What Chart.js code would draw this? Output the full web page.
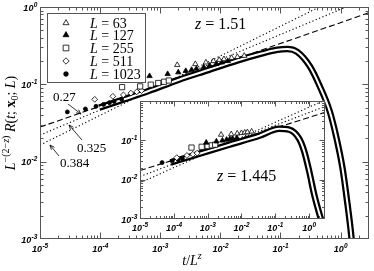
<!DOCTYPE html>
<html>
<head>
<meta charset="utf-8">
<script src="https://cdn.jsdelivr.net/npm/chart.js@4/dist/chart.umd.min.js"></script>
<style>
html, body { margin: 0; padding: 0; background: #fff; }
#wrap { position: relative; width: 374px; height: 271px; }
#main { position: absolute; left: 0; top: 0; }
#inset { position: absolute; left: 112px; top: 96px; }
</style>
</head>
<body>
<div id="wrap">
  <canvas id="main" width="374" height="271"></canvas>
  <canvas id="inset" width="218" height="142"></canvas>
</div>
<script>
// system sizes shown in the legend
const sizes = [63, 127, 255, 511, 1023];

// tick labels
const xTicks = [1e-5, 1e-4, 1e-3, 1e-2, 1e-1, 1];
const xLabels = ['10^-5', '10^-4', '10^-3', '10^-2', '10^-1', '10^0'];
const yTicks = [1e-3, 1e-2, 1e-1, 1];
const mainYLabels = ['10^-3', '10^-2', '10^-1', '10^0'];
const insetYLabels = ['10^-3', '10^-2', '10^-1', ''];

// main panel, z = 1.51 : scaling function (thick curve)
const mainCurveX = [9.7e-5, 2.5e-4, 6.4e-4, 2.0e-3, 6.3e-3, 0.019, 0.05, 0.089, 0.13, 0.19, 0.31, 0.45, 0.66, 0.86, 1.08, 1.30, 1.51, 1.65];
const mainCurveY = [0.05, 0.064, 0.082, 0.114, 0.153, 0.203, 0.252, 0.28, 0.286, 0.263, 0.17, 0.095, 0.045, 0.02, 0.0082, 0.0029, 0.0011, 0.0005];

// power law guides (end points)
const guideX = [1e-5, 3];
const main027 = [0.028, 0.845];
const main0325 = [0.0221, 1.33];
const main0384 = [0.0164, 2.08];

// main panel data points
const m63X = [1.92e-3, 3.84e-3, 5.76e-3, 7.68e-3, 9.6e-3, 1.15e-2, 1.54e-2, 1.92e-2, 2.5e-2];
const m63Y = [0.178, 0.183, 0.192, 0.2, 0.207, 0.212, 0.22, 0.226, 0.234];
const m127X = [6.65e-4, 1.33e-3, 2.0e-3, 2.66e-3, 3.33e-3, 4.0e-3, 5.3e-3, 6.65e-3, 8.6e-3, 1.06e-2, 1.33e-2];
const m127Y = [0.128, 0.136, 0.143, 0.149, 0.154, 0.159, 0.167, 0.175, 0.184, 0.192, 0.2];
const m255X = [2.32e-4, 4.64e-4, 6.96e-4, 9.28e-4, 1.16e-3, 1.39e-3];
const m255Y = [0.092, 0.094, 0.099, 0.104, 0.108, 0.112];
const m511X = [8.13e-5, 1.63e-4, 2.44e-4, 3.25e-4, 4.07e-4, 4.88e-4];
const m511Y = [0.064, 0.07, 0.073, 0.077, 0.080, 0.083];
const m1023X = [2.85e-5, 5.7e-5, 8.55e-5, 1.14e-4, 1.43e-4, 1.71e-4, 2.28e-4];
const m1023Y = [0.044, 0.048, 0.052, 0.055, 0.058, 0.06, 0.064];

// inset, z = 1.445
const insetCurveX = [8e-5, 1.5e-4, 5.8e-4, 4.4e-3, 0.034, 0.131, 0.258, 0.51, 0.71, 1.0, 1.40, 1.97, 2.41];
const insetCurveY = [0.027, 0.032, 0.0455, 0.077, 0.13, 0.195, 0.185, 0.109, 0.054, 0.0169, 0.0044, 0.00146, 0.00081];
const inset027 = [0.017, 0.51];
const inset0325 = [0.012, 0.72];
const inset0384 = [0.0083, 1.05];

const i63X = [2.5e-3, 5.0e-3, 7.5e-3, 1.0e-2, 1.25e-2, 1.5e-2, 2.0e-2];
const i63Y = [0.138, 0.142, 0.148, 0.152, 0.156, 0.16, 0.166];
const i127X = [9.1e-4, 1.82e-3, 2.73e-3, 3.64e-3, 4.55e-3, 5.46e-3, 7.3e-3];
const i127Y = [0.087, 0.093, 0.098, 0.103, 0.107, 0.11, 0.115];
const i255X = [3.33e-4, 6.66e-4, 1.0e-3, 1.33e-3, 1.67e-3];
const i255Y = [0.065, 0.068, 0.071, 0.074, 0.077];
const i511X = [1.22e-4, 2.44e-4, 3.67e-4, 4.89e-4];
const i511Y = [0.036, 0.041, 0.044, 0.047];
const i1023X = [4.5e-5, 9.0e-5, 1.35e-4, 1.8e-4];
const i1023Y = [0.027, 0.03, 0.032, 0.034];

const SANS = '"Liberation Sans", Arial, sans-serif';
const SERIF = '"Liberation Serif", "Times New Roman", serif';

const markerStyles = [
    { pointStyle: 'triangle', fill: '#fff', radius: 3.1 },
    { pointStyle: 'triangle', fill: '#000', radius: 3.1 },
    { pointStyle: 'rect', fill: '#fff', radius: 3.7 },
    { pointStyle: 'rectRot', fill: '#fff', radius: 2.9 },
    { pointStyle: 'circle', fill: '#000', radius: 2 }
];

function pts(xs, ys) {
    return xs.map((x, i) => ({ x: x, y: ys[i] }));
}

function decadeTicks(min, max) {
    const out = [];
    for (let e = Math.floor(Math.log10(min)); e <= Math.ceil(Math.log10(max)); e++) {
        for (let m = 1; m < 10; m++) {
            const v = m * Math.pow(10, e);
            if (v >= min * 0.999 && v <= max * 1.001) out.push({ value: v, major: m === 1 });
        }
    }
    return out;
}

function curveSet(data, color, width, order) {
    return { data: data, showLine: true, pointRadius: 0, borderColor: color, borderWidth: width,
        cubicInterpolationMode: 'monotone', fill: false, order: order, clip: 0 };
}

function guideSet(data, dash) {
    return { data: data, showLine: true, pointRadius: 0, borderColor: '#000', borderWidth: 1.1,
        borderDash: dash, fill: false, order: 3, clip: 0 };
}

function markerSet(data, k) {
    const s = markerStyles[k];
    return { data: data, showLine: false, pointStyle: s.pointStyle, pointRadius: s.radius,
        pointBackgroundColor: s.fill, pointBorderColor: '#000', pointBorderWidth: 0.8, order: 0 };
}

// draws '10^-5' style labels with a raised exponent
function drawPow(ctx, label, x, y, align, size) {
    const parts = label.split('^');
    const bf = 'italic bold ' + size + 'px ' + SANS;
    const ef = 'italic bold ' + (size * 0.72).toFixed(1) + 'px ' + SANS;
    ctx.font = bf;
    const wb = ctx.measureText(parts[0]).width;
    ctx.font = ef;
    const we = ctx.measureText(parts[1]).width;
    let x0 = x;
    if (align === 'center') x0 = x - (wb + we) / 2;
    if (align === 'right') x0 = x - wb - we;
    ctx.textAlign = 'left';
    ctx.font = bf;
    ctx.fillText(parts[0], x0, y);
    ctx.font = ef;
    ctx.fillText(parts[1], x0 + wb + 0.3, y - size * 0.45);
}

// rich text: list of [text, font, dy]
function drawRich(ctx, parts, x, y, align) {
    let w = 0;
    parts.forEach(p => { ctx.font = p[1]; w += ctx.measureText(p[0]).width; });
    let cx = align === 'center' ? x - w / 2 : x;
    ctx.textAlign = 'left';
    parts.forEach(p => {
        ctx.font = p[1];
        ctx.fillText(p[0], cx, y + (p[2] || 0));
        cx += ctx.measureText(p[0]).width;
    });
}

function drawMarker(ctx, k, x, y) {
    const s = markerStyles[k];
    const r = s.radius + 0.3;
    ctx.beginPath();
    if (s.pointStyle === 'triangle') {
        for (let i = 0; i < 3; i++) {
            const a = i * 2 * Math.PI / 3;
            const px = x + Math.sin(a) * r, py = y - Math.cos(a) * r;
            if (i === 0) ctx.moveTo(px, py); else ctx.lineTo(px, py);
        }
        ctx.closePath();
    } else if (s.pointStyle === 'rect') {
        const h = Math.SQRT1_2 * r;
        ctx.rect(x - h, y - h, 2 * h, 2 * h);
    } else if (s.pointStyle === 'rectRot') {
        ctx.moveTo(x, y - r); ctx.lineTo(x + r, y); ctx.lineTo(x, y + r); ctx.lineTo(x - r, y);
        ctx.closePath();
    } else {
        ctx.arc(x, y, r, 0, Math.PI * 2);
    }
    ctx.fillStyle = s.fill;
    ctx.fill();
    ctx.lineWidth = 0.8;
    ctx.strokeStyle = '#000';
    ctx.stroke();
}

function drawArrow(ctx, x1, y1, x2, y2) {
    const a = Math.atan2(y2 - y1, x2 - x1);
    ctx.beginPath();
    ctx.moveTo(x1, y1);
    ctx.lineTo(x2, y2);
    ctx.moveTo(x2 - 5 * Math.cos(a - 0.4), y2 - 5 * Math.sin(a - 0.4));
    ctx.lineTo(x2, y2);
    ctx.lineTo(x2 - 5 * Math.cos(a + 0.4), y2 - 5 * Math.sin(a + 0.4));
    ctx.stroke();
}

// frame, inward ticks and tick labels drawn from the chart's own scales
function axesPlugin(cfg) {
    return {
        id: 'axesDeco',
        beforeDatasetsDraw(chart) {
            if (!cfg.fill) return;
            const a = chart.chartArea;
            chart.ctx.save();
            chart.ctx.fillStyle = '#fff';
            chart.ctx.fillRect(a.left, a.top, a.right - a.left, a.bottom - a.top);
            chart.ctx.restore();
        },
        afterDatasetsDraw(chart) {
            const ctx = chart.ctx, a = chart.chartArea;
            const sx = chart.scales.x, sy = chart.scales.y;
            const L = Math.round(a.left) + 0.5, R = Math.round(a.right) - 0.5;
            const T = Math.round(a.top) + 0.5, B = Math.round(a.bottom) - 0.5;
            ctx.save();
            ctx.strokeStyle = cfg.color;
            ctx.lineWidth = 1;
            ctx.beginPath();
            sx.ticks.forEach(t => {
                const p = Math.round(sx.getPixelForValue(t.value)) + 0.5;
                if (p < L + 1 || p > R - 1) return;
                const len = t.major ? cfg.major : cfg.minor;
                ctx.moveTo(p, B); ctx.lineTo(p, B - len);
                ctx.moveTo(p, T); ctx.lineTo(p, T + len);
            });
            sy.ticks.forEach(t => {
                const p = Math.round(sy.getPixelForValue(t.value)) + 0.5;
                if (p < T + 1 || p > B - 1) return;
                const len = t.major ? cfg.major : cfg.minor;
                ctx.moveTo(L, p); ctx.lineTo(L + len, p);
                ctx.moveTo(R, p); ctx.lineTo(R - len, p);
            });
            ctx.stroke();
            ctx.strokeRect(L, T, R - L, B - T);
            ctx.fillStyle = '#000';
            xTicks.forEach((v, i) => {
                drawPow(ctx, xLabels[i], sx.getPixelForValue(v), a.bottom + cfg.xLabelDy, 'center', cfg.size);
            });
            yTicks.forEach((v, i) => {
                if (!cfg.yLabels[i]) return;
                drawPow(ctx, cfg.yLabels[i], a.left - 3, sy.getPixelForValue(v) + cfg.size * 0.4, 'right', cfg.size);
            });
            ctx.restore();
        }
    };
}

const mainNotes = {
    id: 'mainNotes',
    afterDatasetsDraw(chart) {
        const ctx = chart.ctx;
        ctx.save();
        // legend
        ctx.fillStyle = '#fff';
        ctx.fillRect(47.5, 13.5, 98, 69);
        ctx.strokeStyle = '#555';
        ctx.lineWidth = 1;
        ctx.strokeRect(47.5, 13.5, 98, 69);
        const rowY = [23, 35, 48, 61, 74];
        sizes.forEach((n, i) => {
            drawMarker(ctx, i, 66, rowY[i]);
            ctx.fillStyle = '#000';
            drawRich(ctx, [['L', 'italic 14px ' + SERIF], [' = ' + n, '14px ' + SERIF]], 90, rowY[i] + 5, 'left');
        });
        // z label
        drawRich(ctx, [['z', 'italic 16px ' + SERIF], [' = 1.51', '16px ' + SERIF]], 195, 29, 'left');
        // exponent labels and arrows
        ctx.font = '13px ' + SERIF;
        ctx.fillText('0.27', 53, 101);
        ctx.fillText('0.325', 77, 152);
        ctx.fillText('0.384', 60, 167);
        ctx.strokeStyle = '#000';
        ctx.lineWidth = 0.8;
        drawArrow(ctx, 68, 104, 81, 114);
        drawArrow(ctx, 82, 140, 69, 125);
        drawArrow(ctx, 59, 156, 50, 145);
        // axis titles
        drawRich(ctx, [['t', 'italic 14px ' + SERIF], ['/', '14px ' + SERIF], ['L', 'italic 14px ' + SERIF],
            ['z', 'italic 10px ' + SERIF, -6]], 192, 265, 'center');
        ctx.translate(15, 123);
        ctx.rotate(-Math.PI / 2);
        drawRich(ctx, [['L', 'italic 14px ' + SERIF], ['\u2212(2\u2212', '10px ' + SERIF, -6], ['z', 'italic 10px ' + SERIF, -6],
            [')', '10px ' + SERIF, -6], [' R', 'italic 14px ' + SERIF], ['(', '14px ' + SERIF], ['t', 'italic 14px ' + SERIF],
            ['; ', '14px ' + SERIF], ['x', 'bold 14px ' + SERIF], ['0', '10px ' + SERIF, 3], ['; ', '14px ' + SERIF],
            ['L', 'italic 14px ' + SERIF], [')', '14px ' + SERIF]], 0, 0, 'center');
        ctx.restore();
    }
};

const insetNotes = {
    id: 'insetNotes',
    afterDatasetsDraw(chart) {
        const ctx = chart.ctx;
        ctx.save();
        ctx.fillStyle = '#000';
        drawRich(ctx, [['z', 'italic 16px ' + SERIF], [' = 1.445', '16px ' + SERIF]], 105, 85, 'left');
        ctx.restore();
    }
};

function logAxis(min, max, size) {
    return {
        type: 'logarithmic', min: min, max: max,
        grid: { display: false }, border: { display: false }, ticks: { display: false },
        afterBuildTicks: s => { s.ticks = decadeTicks(min, max); },
        afterFit: s => { if (s.isHorizontal()) s.height = size; else s.width = size; }
    };
}

function panelDatasets(curveX, curveY, g1, g2, g3, marks) {
    const curve = pts(curveX, curveY);
    const sets = marks.map((m, k) => markerSet(pts(m[0], m[1]), k));
    sets.push(curveSet(curve, '#fff', 2, 1));
    sets.push(curveSet(curve, '#000', 6.5, 2));
    sets.push(guideSet(pts(guideX, g1), [6, 3]));
    sets.push(guideSet(pts(guideX, g2), [1.2, 2.4]));
    sets.push(guideSet(pts(guideX, g3), [1.2, 2.4]));
    return sets;
}

new Chart(document.getElementById('main'), {
    type: 'scatter',
    data: {
        datasets: panelDatasets(mainCurveX, mainCurveY, main027, main0325, main0384,
            [[m63X, m63Y], [m127X, m127Y], [m255X, m255Y], [m511X, m511Y], [m1023X, m1023Y]])
    },
    options: {
        responsive: false,
        animation: false,
        layout: { padding: { top: 7, right: 1, left: 0, bottom: 0 } },
        plugins: { legend: { display: false }, tooltip: { enabled: false } },
        scales: { x: logAxis(1e-5, 3, 32), y: logAxis(1e-3, 1, 40) }
    },
    plugins: [axesPlugin({ color: '#555', major: 6, minor: 3, size: 9, xLabelDy: 13, yLabels: mainYLabels }), mainNotes]
});

new Chart(document.getElementById('inset'), {
    type: 'scatter',
    data: {
        datasets: panelDatasets(insetCurveX, insetCurveY, inset027, inset0325, inset0384,
            [[i63X, i63Y], [i127X, i127Y], [i255X, i255Y], [i511X, i511Y], [i1023X, i1023Y]])
    },
    options: {
        responsive: false,
        animation: false,
        layout: { padding: { top: 4, right: 4, left: 0, bottom: 0 } },
        plugins: { legend: { display: false }, tooltip: { enabled: false } },
        scales: { x: logAxis(1e-5, 3, 19), y: logAxis(1e-3, 1, 28) }
    },
    plugins: [axesPlugin({ color: '#555', major: 5, minor: 2.5, size: 9, xLabelDy: 12, yLabels: insetYLabels, fill: true }), insetNotes]
});
</script>
</body>
</html>
